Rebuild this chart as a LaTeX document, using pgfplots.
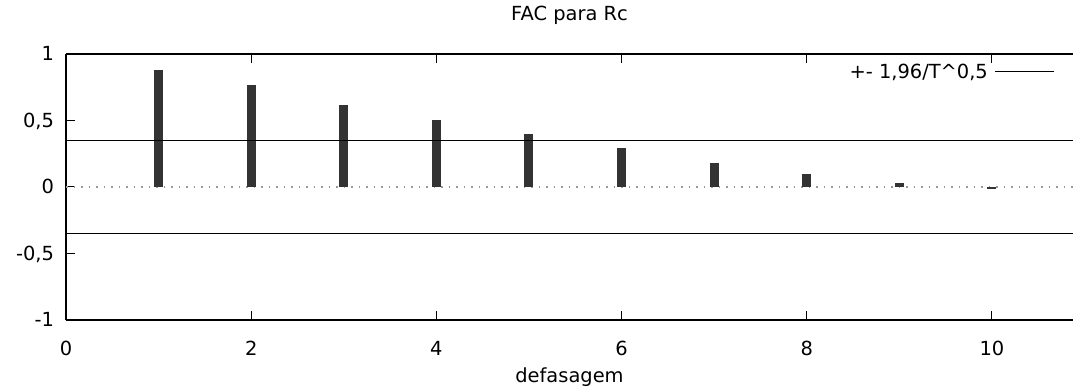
\documentclass[border=0pt]{standalone}
\usepackage{pgfplots}
\pgfplotsset{compat=1.18}
\usepackage{fontspec}
\setmainfont{DejaVu Sans}
\definecolor{barc}{RGB}{51,51,51}
\begin{document}
\begin{tikzpicture}[font=\fontsize{19.5}{23}\selectfont]
\useasboundingbox (0,0) rectangle (1073bp,390bp);
\begin{axis}[
  at={(66bp,70bp)}, anchor=south west,
  scale only axis, width=1007bp, height=266bp,
  xmin=0, xmax=10.875, ymin=-1, ymax=1,
  axis x line=box, axis y line*=left,
  axis line style={line width=1.2bp, black},
  tick align=inside, major tick length=9bp,
  tick style={line width=1bp, black},
  xtick={0,2,4,6,8,10}, xticklabels={0,2,4,6,8,10},
  ytick={-1,-0.5,0,0.5,1}, yticklabels={{-1},{-0,5},{0},{0,5},{1}},
  xticklabel style={anchor=base, yshift=-36bp},
  yticklabel style={anchor=base east, xshift=-8.5bp, yshift=-6.7bp},
  title={FAC para Rc},
  title style={at={(0.5,1)}, anchor=base, yshift=27.3bp},
  xlabel={defasagem},
  xlabel style={at={(0.5,0)}, anchor=base, yshift=-62bp},
  legend plot pos=right,
  legend style={draw=none, fill=none, at={(0.982,0.9335)}, anchor=east, inner sep=0pt, nodes={inner xsep=6.5bp}},
  legend image code/.code={\draw[#1] (0bp,0bp) -- (59bp,0bp);},
]
\addplot[forget plot, gray!80, line width=1.2bp, dash pattern=on 1.5bp off 6bp] coordinates {(0,0) (10.875,0)};
\addplot[forget plot, ycomb, barc, line width=9bp] coordinates {
(1,0.881) (2,0.764) (3,0.62) (4,0.50) (5,0.40) (6,0.29) (7,0.18) (8,0.095) (9,0.03) (10,-0.015)
};
\addplot[black, line width=1.3bp] coordinates {(0,0.35) (10.875,0.35)};
\addlegendentry{+- 1,96/T\textasciicircum 0,5}
\addplot[forget plot, black, line width=1.3bp] coordinates {(0,-0.35) (10.875,-0.35)};
\end{axis}
\end{tikzpicture}
\end{document}
